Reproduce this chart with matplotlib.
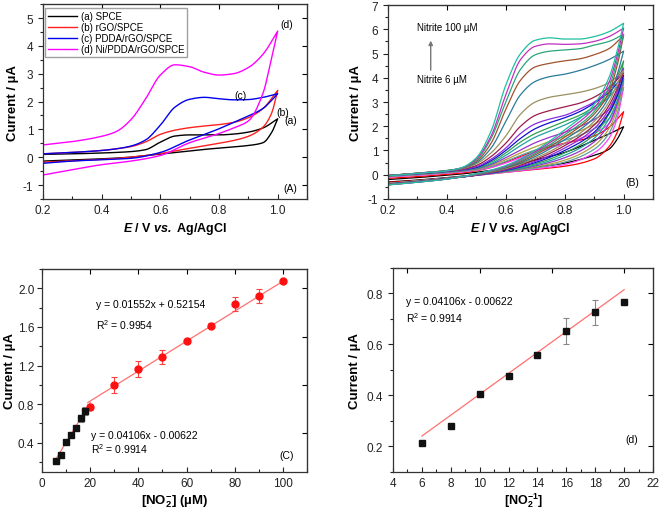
import numpy as np
import matplotlib
matplotlib.use("Agg")
import matplotlib.pyplot as plt
from matplotlib.ticker import MultipleLocator, FormatStrFormatter

plt.rcParams['font.family'] = ['Liberation Sans', 'DejaVu Sans']
plt.rcParams['axes.unicode_minus'] = False
plt.rcParams['mathtext.fontset'] = 'custom'
plt.rcParams['mathtext.rm'] = 'Liberation Sans'
plt.rcParams['mathtext.it'] = 'Liberation Sans:italic'
plt.rcParams['mathtext.bf'] = 'Liberation Sans:bold'
plt.rcParams['mathtext.bfit'] = 'Liberation Sans:bold:italic'

# ---------------- Panel A data ----------------
EA_f = [0.2, 0.3, 0.4, 0.45, 0.5, 0.55, 0.6, 0.65, 0.7, 0.75, 0.8, 0.85, 0.9, 0.95, 1.0]
EA_r = [1.0, 0.98, 0.95, 0.9, 0.85, 0.8, 0.7, 0.6, 0.5, 0.4, 0.3, 0.2]
A_labels = ["(a) SPCE", "(b) rGO/SPCE", "(c) PDDA/rGO/SPCE", "(d) Ni/PDDA/rGO/SPCE"]
A_colors = ["#000000", "#ff2020", "#0000ee", "#ff00ff"]
A_a_f = [0.10, 0.12, 0.15, 0.17, 0.20, 0.27, 0.54, 0.76, 0.80, 0.80, 0.80, 0.83, 0.90, 1.05, 1.38]
A_a_r = [1.38, 0.90, 0.52, 0.42, 0.37, 0.33, 0.22, 0.11, 0.00, -0.06, -0.10, -0.14]
A_b_f = [0.12, 0.17, 0.24, 0.30, 0.38, 0.55, 0.82, 0.97, 1.06, 1.12, 1.17, 1.25, 1.42, 1.75, 2.40]
A_b_r = [2.40, 1.60, 1.08, 0.75, 0.60, 0.50, 0.32, 0.13, 0.00, -0.08, -0.13, -0.18]
A_c_f = [0.12, 0.17, 0.24, 0.30, 0.40, 0.62, 1.15, 1.80, 2.08, 2.15, 2.10, 2.06, 2.07, 2.15, 2.28]
A_c_r = [2.28, 2.05, 1.75, 1.48, 1.25, 1.02, 0.62, 0.17, -0.04, -0.09, -0.14, -0.22]
A_d_f = [0.44, 0.56, 0.75, 0.92, 1.35, 2.10, 2.95, 3.32, 3.25, 3.05, 2.95, 3.00, 3.22, 3.70, 4.53]
A_d_r = [4.53, 3.60, 2.30, 1.30, 1.05, 0.85, 0.52, 0.06, -0.14, -0.27, -0.45, -0.64]

# ---------------- Panel B data ----------------
EB_f = [0.2, 0.3, 0.4, 0.45, 0.5, 0.55, 0.6, 0.65, 0.7, 0.75, 0.8, 0.85, 0.9, 0.95, 1.0]
EB_r = [1.0, 0.98, 0.95, 0.9, 0.8, 0.7, 0.6, 0.5, 0.4, 0.3, 0.2]
B_colors = ["#000000", "#ff0000", "#ff40ff", "#5f9ea0", "#b0a040", "#9932cc", "#20a0a0",
            "#30a050", "#1010d0", "#8a2be2", "#9b1b4b", "#9a9060", "#2a7a9a", "#a0522d",
            "#2aa57a", "#c22fc2", "#1fbf9f"]
B_fwd = [
    [-0.20, -0.12, -0.02, 0.03, 0.10, 0.18, 0.30, 0.45, 0.60, 0.75, 0.92, 1.15, 1.42, 1.68, 1.98],
    [-0.15, -0.08, 0.02, 0.07, 0.16, 0.30, 0.52, 0.75, 0.98, 1.15, 1.30, 1.42, 1.60, 1.95, 2.60],
    [-0.10, -0.03, 0.06, 0.11, 0.18, 0.30, 0.48, 0.70, 0.92, 1.10, 1.28, 1.48, 1.72, 2.10, 3.60],
    [-0.08, -0.01, 0.08, 0.13, 0.20, 0.34, 0.55, 0.80, 1.02, 1.22, 1.42, 1.62, 1.90, 2.30, 3.80],
    [-0.06, 0.01, 0.10, 0.15, 0.22, 0.38, 0.62, 0.90, 1.15, 1.38, 1.58, 1.80, 2.08, 2.50, 3.90],
    [-0.05, 0.02, 0.11, 0.16, 0.24, 0.42, 0.70, 1.02, 1.32, 1.55, 1.75, 1.98, 2.28, 2.70, 3.95],
    [-0.05, 0.03, 0.12, 0.18, 0.26, 0.46, 0.80, 1.20, 1.55, 1.80, 2.05, 2.35, 2.70, 3.20, 4.00],
    [-0.04, 0.04, 0.13, 0.19, 0.28, 0.52, 0.90, 1.35, 1.70, 1.95, 2.20, 2.45, 2.80, 3.30, 4.70],
    [-0.04, 0.04, 0.14, 0.20, 0.30, 0.58, 1.00, 1.50, 1.90, 2.15, 2.35, 2.60, 2.95, 3.40, 4.10],
    [-0.03, 0.05, 0.15, 0.21, 0.33, 0.64, 1.10, 1.70, 2.10, 2.30, 2.45, 2.70, 3.00, 3.50, 4.40],
    [-0.03, 0.05, 0.15, 0.22, 0.38, 0.75, 1.30, 2.00, 2.45, 2.65, 2.80, 2.95, 3.20, 3.60, 4.20],
    [-0.03, 0.06, 0.16, 0.24, 0.45, 0.90, 1.60, 2.50, 3.00, 3.20, 3.30, 3.40, 3.55, 3.80, 4.30],
    [-0.04, 0.06, 0.17, 0.26, 0.50, 1.10, 2.20, 3.30, 3.85, 4.05, 4.15, 4.30, 4.50, 4.75, 5.10],
    [-0.04, 0.06, 0.17, 0.27, 0.55, 1.30, 2.70, 3.90, 4.45, 4.60, 4.70, 4.78, 4.95, 5.20, 5.75],
    [-0.04, 0.06, 0.17, 0.28, 0.60, 1.50, 3.00, 4.35, 4.95, 5.10, 5.15, 5.20, 5.35, 5.50, 5.80],
    [-0.05, 0.05, 0.16, 0.28, 0.65, 1.60, 3.30, 4.75, 5.30, 5.40, 5.38, 5.40, 5.50, 5.70, 6.05],
    [-0.05, 0.05, 0.16, 0.29, 0.70, 1.80, 3.70, 5.00, 5.55, 5.65, 5.60, 5.60, 5.70, 5.90, 6.25],
]
B_rev = [
    [1.98, 1.50, 1.05, 0.80, 0.48, 0.30, 0.15, 0.00, -0.12, -0.22, -0.30],
    [2.60, 1.80, 1.15, 0.65, 0.35, 0.22, 0.10, -0.03, -0.14, -0.24, -0.32],
    [3.60, 2.40, 1.50, 0.90, 0.42, 0.24, 0.10, -0.03, -0.15, -0.26, -0.36],
    [3.80, 2.60, 1.70, 1.05, 0.52, 0.28, 0.12, -0.02, -0.14, -0.25, -0.36],
    [3.90, 2.80, 1.90, 1.20, 0.60, 0.32, 0.13, -0.02, -0.15, -0.26, -0.37],
    [3.95, 3.00, 2.10, 1.35, 0.70, 0.36, 0.14, -0.02, -0.15, -0.27, -0.38],
    [4.00, 3.10, 2.30, 1.50, 0.80, 0.40, 0.15, -0.02, -0.16, -0.28, -0.38],
    [4.70, 3.40, 2.50, 1.65, 0.90, 0.45, 0.17, -0.02, -0.16, -0.28, -0.39],
    [4.10, 3.30, 2.55, 1.75, 1.00, 0.50, 0.18, -0.02, -0.16, -0.29, -0.39],
    [4.40, 3.50, 2.70, 1.90, 1.10, 0.55, 0.20, -0.02, -0.17, -0.29, -0.40],
    [4.20, 3.60, 2.85, 2.05, 1.20, 0.62, 0.22, -0.01, -0.17, -0.29, -0.40],
    [4.30, 3.80, 3.00, 2.20, 1.30, 0.68, 0.25, 0.00, -0.17, -0.30, -0.40],
    [5.10, 4.20, 3.20, 2.35, 1.45, 0.75, 0.28, 0.01, -0.17, -0.30, -0.41],
    [5.75, 4.60, 3.40, 2.50, 1.55, 0.82, 0.30, 0.02, -0.17, -0.30, -0.41],
    [5.80, 4.80, 3.60, 2.60, 1.65, 0.88, 0.32, 0.02, -0.18, -0.31, -0.42],
    [6.05, 5.00, 3.80, 2.75, 1.75, 0.95, 0.35, 0.03, -0.18, -0.31, -0.42],
    [6.25, 5.20, 4.00, 2.90, 1.85, 1.00, 0.38, 0.04, -0.18, -0.31, -0.42],
]

# ---------------- Panel C / D data ----------------
conc_low = [6, 8, 10, 12, 14, 16, 18]
cur_low = [0.214, 0.276, 0.404, 0.478, 0.558, 0.652, 0.728]
err_low = [0.0, 0.0, 0.0, 0.0, 0.0, 0.04, 0.04]
conc_high = [20, 30, 40, 50, 60, 70, 80, 90, 100]
cur_high = [0.768, 0.998, 1.164, 1.288, 1.452, 1.613, 1.837, 1.920, 2.073]
err_high = [0.03, 0.08, 0.085, 0.075, 0.012, 0.025, 0.075, 0.07, 0.01]
fit_high = (0.01552, 0.52154)
fit_low = (0.04106, -0.00622)

conc_d = [6, 8, 10, 12, 14, 16, 18, 20]
cur_d = [0.213, 0.278, 0.405, 0.474, 0.557, 0.653, 0.726, 0.765]
err_d = [0.0, 0.0, 0.0, 0.0, 0.0, 0.05, 0.048, 0.0]


def pchip(x, y, n=160):
    x = np.asarray(x, float)
    y = np.asarray(y, float)
    if x[0] > x[-1]:
        x, y = x[::-1], y[::-1]
    h = np.diff(x)
    d = np.diff(y) / h
    m = np.zeros_like(y)
    for k in range(1, len(x) - 1):
        if d[k - 1] * d[k] > 0:
            w1 = 2 * h[k] + h[k - 1]
            w2 = h[k] + 2 * h[k - 1]
            m[k] = (w1 + w2) / (w1 / d[k - 1] + w2 / d[k])
    m[0] = d[0]
    m[-1] = d[-1]
    xs = np.linspace(x[0], x[-1], n)
    idx = np.clip(np.searchsorted(x, xs) - 1, 0, len(h) - 1)
    t = (xs - x[idx]) / h[idx]
    h00 = 2 * t**3 - 3 * t**2 + 1
    h10 = t**3 - 2 * t**2 + t
    h01 = -2 * t**3 + 3 * t**2
    h11 = t**3 - t**2
    ys = h00 * y[idx] + h10 * h[idx] * m[idx] + h01 * y[idx + 1] + h11 * h[idx] * m[idx + 1]
    return xs, ys


def style(ax):
    ax.tick_params(axis='both', which='both', labelsize=8.5, width=0.8, colors='#222222')
    ax.tick_params(axis='y', which='major', direction='out', length=3.5, left=True, right=False)
    ax.tick_params(axis='y', which='minor', direction='out', length=2, left=True, right=False)
    ax.tick_params(axis='x', which='major', direction='in', length=3.5, top=False)
    ax.tick_params(axis='x', which='minor', direction='in', length=2, top=False)
    axr = ax.secondary_yaxis('right')
    axr.tick_params(which='both', direction='in', labelright=False, width=0.8)
    axr.tick_params(which='major', length=3.5)
    axr.tick_params(which='minor', length=2)
    axt = ax.secondary_xaxis('top')
    axt.tick_params(which='both', direction='in', labeltop=False, width=0.8)
    axt.tick_params(which='major', length=3.5)
    axt.tick_params(which='minor', length=2)
    for s in ax.spines.values():
        s.set_linewidth(0.9)
        s.set_color('#333333')


fig = plt.figure(figsize=(6.61, 5.10), dpi=100)
LAB = 9.5

# ---------------- Panel A ----------------
axA = fig.add_axes([0.065, 0.608, 0.3995, 0.382])
A_f = [A_a_f, A_b_f, A_c_f, A_d_f]
A_r = [A_a_r, A_b_r, A_c_r, A_d_r]
for lab, col, f, r in zip(A_labels, A_colors, A_f, A_r):
    xf, yf = pchip(EA_f, f)
    xr, yr = pchip(EA_r, r)
    axA.plot(np.concatenate([xf, xr[::-1]]), np.concatenate([yf, yr[::-1]]),
             color=col, lw=1.0, label=lab)
axA.set_xlim(0.2, 1.1)
axA.set_ylim(-1.5, 5.5)
axA.xaxis.set_major_locator(MultipleLocator(0.2))
axA.xaxis.set_minor_locator(MultipleLocator(0.1))
axA.yaxis.set_major_locator(MultipleLocator(1))
axA.yaxis.set_minor_locator(MultipleLocator(0.5))
style(axA)
axA.set_xlabel(r"$\mathbfit{E}$ / V $\mathbfit{vs.}$ Ag/AgCl", fontsize=9, fontweight='bold', labelpad=3)
axA.set_ylabel("Current / µA", fontsize=LAB, fontweight='bold', labelpad=3)
leg = axA.legend(loc='upper left', bbox_to_anchor=(0.0, 0.99), fontsize=7, handlelength=3.0,
                 handletextpad=0.4, labelspacing=0.12, borderpad=0.3, frameon=True, fancybox=False,
                 borderaxespad=0.2)
leg.get_frame().set_edgecolor('#888888')
leg.get_frame().set_linewidth(1.0)
axA.text(1.03, 4.78, "(d)", fontsize=7.5, ha='center', va='center')
axA.text(0.873, 2.25, "(c)", fontsize=7.5, ha='center', va='center')
axA.text(1.016, 1.62, "(b)", fontsize=7.5, ha='center', va='center')
axA.text(1.044, 1.32, "(a)", fontsize=7.5, ha='center', va='center')
axA.text(1.044, -1.12, "(A)", fontsize=7.5, ha='center', va='center')

# ---------------- Panel B ----------------
axB = fig.add_axes([0.587, 0.608, 0.401, 0.380])
for col, f, r in zip(B_colors, B_fwd, B_rev):
    xf, yf = pchip(EB_f, f)
    xr, yr = pchip(EB_r, r)
    axB.plot(np.concatenate([xf, xr[::-1]]), np.concatenate([yf, yr[::-1]]),
             color=col, lw=0.9)
axB.set_xlim(0.2, 1.1)
axB.set_ylim(-1, 7)
axB.xaxis.set_major_locator(MultipleLocator(0.2))
axB.xaxis.set_minor_locator(MultipleLocator(0.1))
axB.yaxis.set_major_locator(MultipleLocator(1))
axB.yaxis.set_minor_locator(MultipleLocator(0.5))
style(axB)
axB.set_xlabel(r"$\mathbfit{E}$ / V $\mathbfit{vs.}$Ag/AgCl", fontsize=9, fontweight='bold', labelpad=3)
axB.set_ylabel("Current / µA", fontsize=LAB, fontweight='bold', labelpad=4)
axB.text(0.297, 6.08, "Nitrite 100 µM", fontsize=7, ha='left', va='center')
axB.text(0.30, 3.95, "Nitrite 6 µM", fontsize=7, ha='left', va='center')
axB.annotate("", xy=(0.345, 5.65), xytext=(0.345, 4.2),
             arrowprops=dict(arrowstyle='-|>', color='#777777', lw=1.0, mutation_scale=6))
axB.text(1.03, -0.31, "(B)", fontsize=7.5, ha='center', va='center')

# ---------------- Panel C ----------------
axC = fig.add_axes([0.0635, 0.0731, 0.401, 0.3975])
xh = np.array([conc_high[0] - 1, conc_high[-1]])
axC.plot(xh, fit_high[0] * xh + fit_high[1], color='#ff7070', lw=0.9)
xl = np.array([conc_low[0], conc_high[0]])
axC.plot(xl, fit_low[0] * xl + fit_low[1], color='#ff7070', lw=0.9)
axC.errorbar(conc_high, cur_high, yerr=err_high, fmt='o', color='#ff1010', ms=5,
             ecolor='#ff4040', elinewidth=0.8, capsize=2.5, capthick=0.8)
axC.errorbar(conc_low, cur_low, yerr=err_low, fmt='s', color='#111111', ms=4.5,
             ecolor='#888888', elinewidth=0.8, capsize=2, capthick=0.8)
axC.set_xlim(0, 110)
axC.set_ylim(0.1, 2.2)
axC.xaxis.set_major_locator(MultipleLocator(20))
axC.xaxis.set_minor_locator(MultipleLocator(10))
axC.yaxis.set_major_locator(MultipleLocator(0.4))
axC.yaxis.set_minor_locator(MultipleLocator(0.2))
axC.yaxis.set_major_formatter(FormatStrFormatter('%.1f'))
style(axC)
axC.tick_params(axis='y', which='major', pad=2)
axC.set_xlabel(r"$\mathbf{[NO}_{\mathbf{2}}^{\mathbf{-}}\mathbf{]}$ (µM)", fontsize=LAB,
               fontweight='bold', labelpad=3)
axC.set_ylabel("Current / µA", fontsize=LAB, fontweight='bold', labelpad=1)
axC.text(22.5, 1.84, "y = 0.01552x + 0.52154", fontsize=7.5, ha='left', va='center')
axC.text(22.5, 1.63, r"R$^2$ = 0.9954", fontsize=7.5, ha='left', va='center')
axC.text(20.2, 0.48, "y = 0.04106x - 0.00622", fontsize=7.5, ha='left', va='center')
axC.text(20.2, 0.34, r"R$^2$ = 0.9914", fontsize=7.5, ha='left', va='center')
axC.text(101.5, 0.27, "(C)", fontsize=7.5, ha='center', va='center')

# ---------------- Panel D ----------------
axD = fig.add_axes([0.5946, 0.0731, 0.3934, 0.3994])
xd = np.array([conc_d[0], conc_d[-1]])
axD.plot(xd, fit_low[0] * xd + fit_low[1], color='#ff7070', lw=0.9)
axD.errorbar(conc_d, cur_d, yerr=err_d, fmt='s', color='#111111', ms=4.5,
             ecolor='#888888', elinewidth=0.8, capsize=2, capthick=0.8)
axD.set_xlim(4, 22)
axD.set_ylim(0.1, 0.9)
axD.xaxis.set_major_locator(MultipleLocator(2))
axD.xaxis.set_minor_locator(MultipleLocator(1))
axD.yaxis.set_major_locator(MultipleLocator(0.2))
axD.yaxis.set_minor_locator(MultipleLocator(0.1))
axD.yaxis.set_major_formatter(FormatStrFormatter('%.1f'))
style(axD)
axD.set_xlabel(r"$\mathbf{[NO}_{\mathbf{2}}^{\mathbf{-1}}\mathbf{]}$", fontsize=9,
               fontweight='bold', labelpad=1)
axD.set_ylabel("Current / µA", fontsize=LAB, fontweight='bold', labelpad=4)
axD.text(4.9, 0.77, "y = 0.04106x - 0.00622", fontsize=7.5, ha='left', va='center')
axD.text(4.9, 0.708, r"R$^2$ = 0.9914", fontsize=7.5, ha='left', va='center')
axD.text(20.5, 0.23, "(d)", fontsize=7.5, ha='center', va='center')

fig.savefig("out.png", dpi=100)
